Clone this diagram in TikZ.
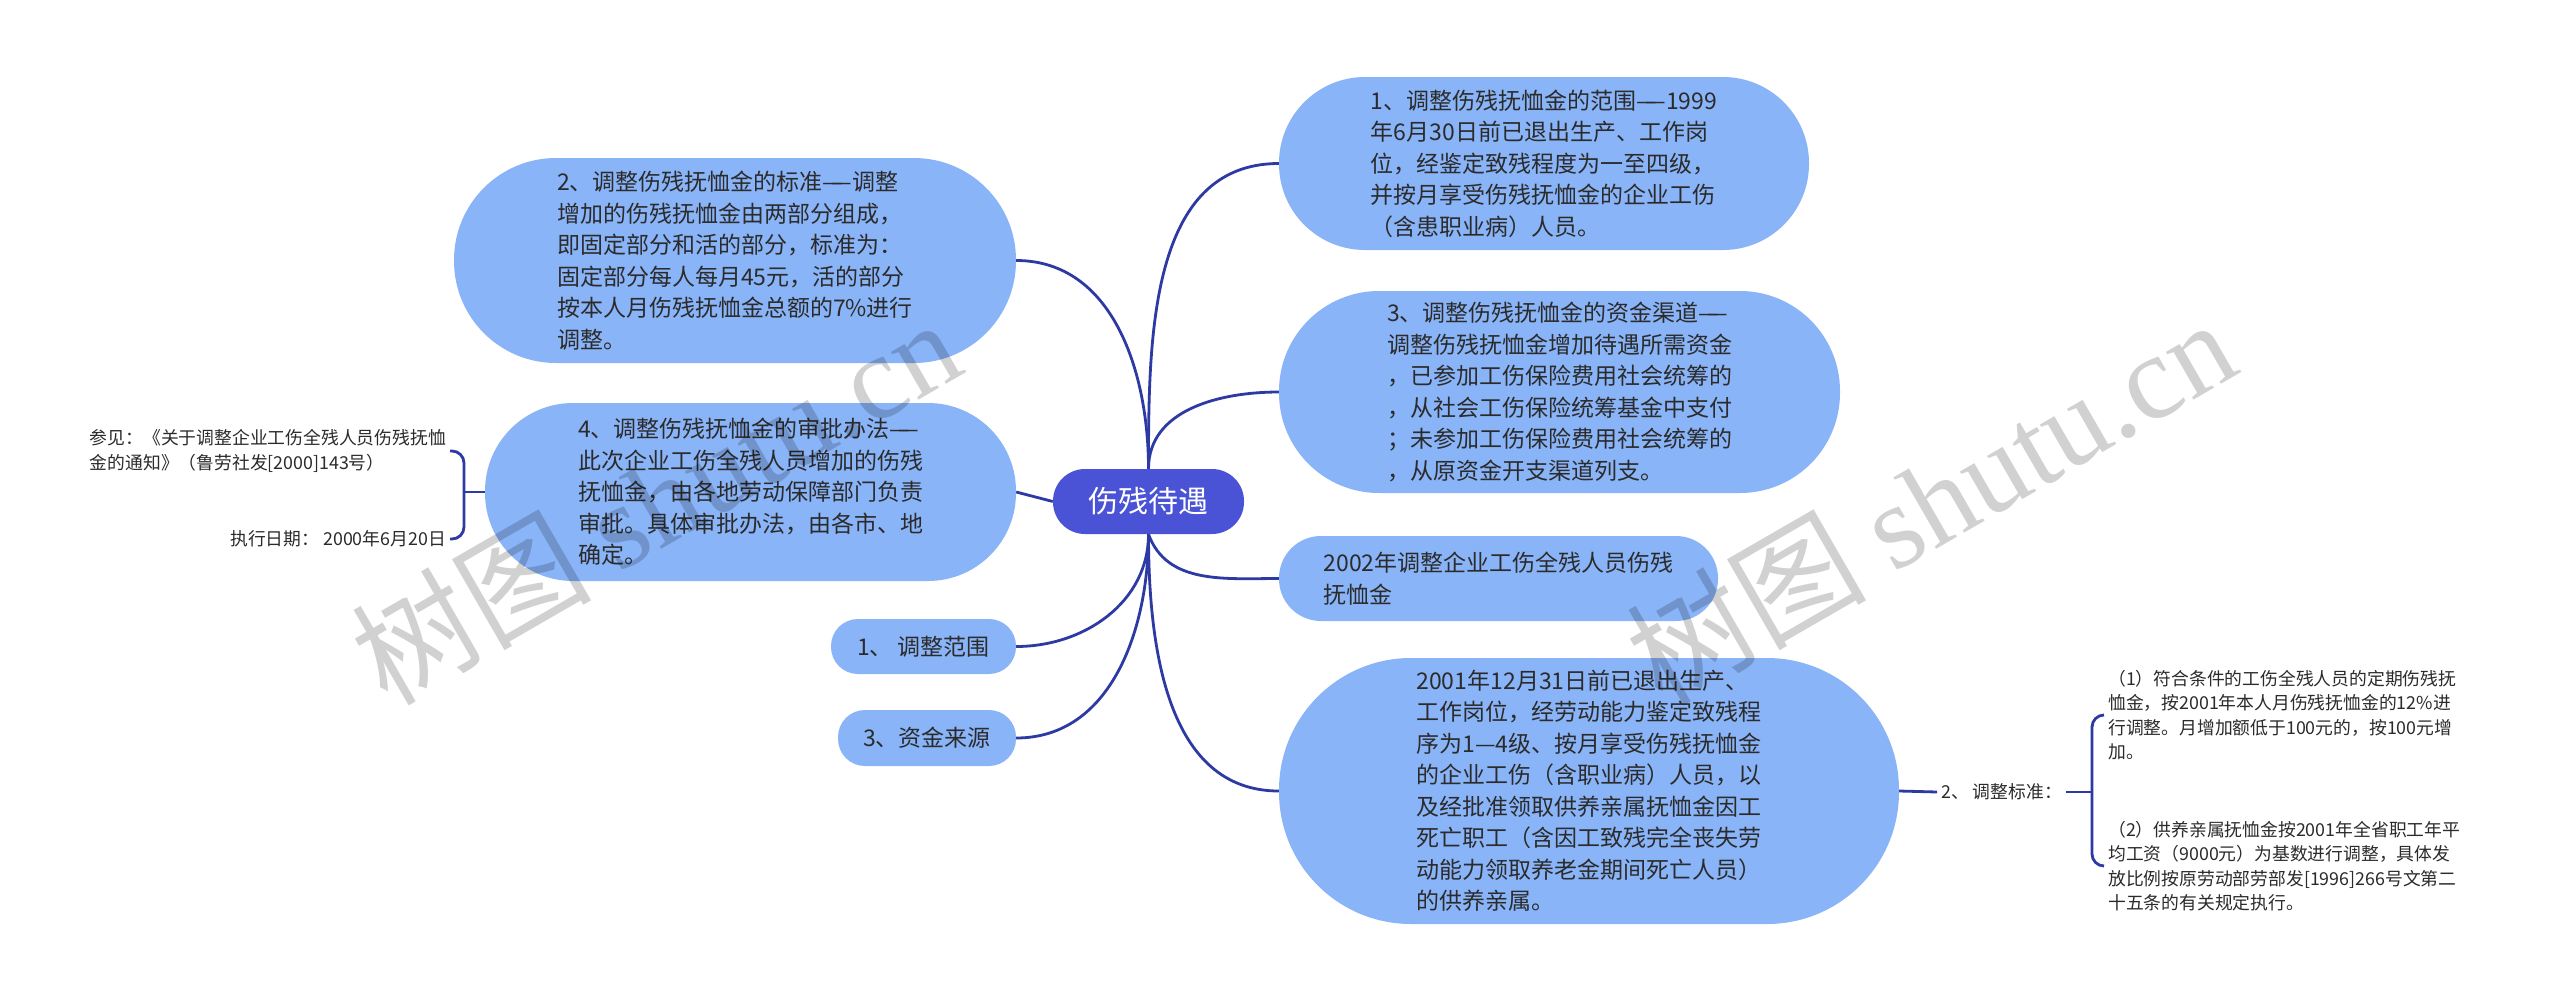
\documentclass[tikz,border=0pt]{standalone}
\usepackage{fontspec}
\setmainfont{Noto Sans CJK SC}
\newfontfamily\wmserif{Liberation Serif}
\definecolor{nb}{HTML}{8AB4F8}
\definecolor{rootc}{HTML}{4A52D6}
\definecolor{connc}{HTML}{2E3AA3}
\definecolor{tx}{HTML}{2B2B2B}
\newcommand{\cdash}{—\kern-0.5em—}
\tikzset{
  bubble/.style={fill=nb, text=tx, inner sep=0pt, align=left,
    font=\fontsize{23}{31.5}\selectfont, rounded corners=#1},
  rootnode/.style={fill=rootc, text=white, inner sep=0pt,
    font=\fontsize{30}{34}\selectfont, rounded corners=32,
    minimum width=191, minimum height=65},
  leaf/.style={text=tx, inner sep=4pt, align=left,
    font=\fontsize{17.8}{24.5}\selectfont},
  conn/.style={draw=connc, line width=2.8pt},
  wm/.style={text=black, text opacity=0.18,
    font=\fontsize{120}{130}\selectfont}
}
\begin{document}
\begin{tikzpicture}[x=1pt,y=-1pt]
\fill[white] (0,0) rectangle (2560,1002);
\useasboundingbox (0,0) rectangle (2560,1002);

% root
\node[rootnode] (root) at (1148.5,501.5) {伤残待遇};

% left side
\node[bubble=102, minimum width=562, minimum height=205] (A) at (735,260.5)
 {2、调整伤残抚恤金的标准\cdash 调整\\增加的伤残抚恤金由两部分组成，\\即固定部分和活的部分，标准为：\\固定部分每人每月45元，活的部分\\按本人月伤残抚恤金总额的7\%进行\\调整。};
\node[bubble=88, minimum width=531, minimum height=178] (F) at (750.5,492)
 {4、调整伤残抚恤金的审批办法\cdash\\此次企业工伤全残人员增加的伤残\\抚恤金，由各地劳动保障部门负责\\审批。具体审批办法，由各市、地\\确定。};
\node[bubble=27, minimum width=185, minimum height=55] (G) at (923.5,646.5) {1、 调整范围};
\node[bubble=27, minimum width=178, minimum height=56] (H) at (927,738) {3、资金来源};

% right side
\node[bubble=86, minimum width=530, minimum height=173] (B) at (1544,163.5)
 {1、调整伤残抚恤金的范围\cdash 1999\\年6月30日前已退出生产、工作岗\\位，经鉴定致残程度为一至四级，\\并按月享受伤残抚恤金的企业工伤\\（含患职业病）人员。};
\node[bubble=100, minimum width=561, minimum height=202] (C) at (1559.5,392)
 {3、调整伤残抚恤金的资金渠道\cdash\\调整伤残抚恤金增加待遇所需资金\\，已参加工伤保险费用社会统筹的\\，从社会工伤保险统筹基金中支付\\；未参加工伤保险费用社会统筹的\\，从原资金开支渠道列支。};
\node[bubble=42, minimum width=439, minimum height=85] (D) at (1498.5,578.5)
 {2002年调整企业工伤全残人员伤残\\抚恤金};
\node[bubble=132, minimum width=620, minimum height=266] (E) at (1589,791)
 {2001年12月31日前已退出生产、\\工作岗位，经劳动能力鉴定致残程\\序为1—4级、按月享受伤残抚恤金\\的企业工伤（含职业病）人员，以\\及经批准领取供养亲属抚恤金因工\\死亡职工（含因工致残完全丧失劳\\动能力领取养老金期间死亡人员）\\的供养亲属。};

% leaves
\node[leaf, anchor=east] (ref) at (450,451)
 {参见：《关于调整企业工伤全残人员伤残抚恤\\金的通知》（鲁劳社发[2000]143号）};
\node[leaf, anchor=east] (date) at (450,539) {执行日期： 2000年6月20日};
\node[leaf, anchor=west] (adj) at (1937,792) {2、 调整标准：};
\node[leaf, anchor=west] (r1) at (2104,715)
 {（1）符合条件的工伤全残人员的定期伤残抚\\恤金，按2001年本人月伤残抚恤金的12\%进\\行调整。月增加额低于100元的，按100元增\\加。};
\node[leaf, anchor=west] (r2) at (2104,866)
 {（2）供养亲属抚恤金按2001年全省职工年平\\均工资（9000元）为基数进行调整，具体发\\放比例按原劳动部劳部发[1996]266号文第二\\十五条的有关规定执行。};

% connectors from root
\draw[conn] (root.north) to[out=90,in=0] (A.east);
\draw[conn] (root.north) to[out=90,in=180] (B.west);
\draw[conn] (root.north) to[out=90,in=180] (C.west);
\draw[conn] (root.west) -- (F.east);
\draw[conn] (root.south) to[out=-70,in=180] (D.west);
\draw[conn] (root.south) to[out=-90,in=180] (E.west);
\draw[conn] (root.south) to[out=-90,in=0] (G.east);
\draw[conn] (root.south) to[out=-90,in=0] (H.east);

% left brace
\coordinate (lb) at (464,492);
\draw[conn] (F.west) -- (lb);
\draw[conn, rounded corners=12] (ref.east) -| (lb) |- (date.east);

% right brace
\draw[conn] (E.east) -- (adj.west);
\coordinate (rb) at (2092,792);
\draw[conn] (adj.east) -- (rb);
\draw[conn, rounded corners=12] (r1.west) -| (rb) |- (r2.west);

% watermarks
\node[wm, rotate=30] (wm1) at (655,500) {树图 {\wmserif shutu.cn}};
\node[wm, rotate=30] (wm2) at (1930,500) {树图 {\wmserif shutu.cn}};
\end{tikzpicture}
\end{document}
